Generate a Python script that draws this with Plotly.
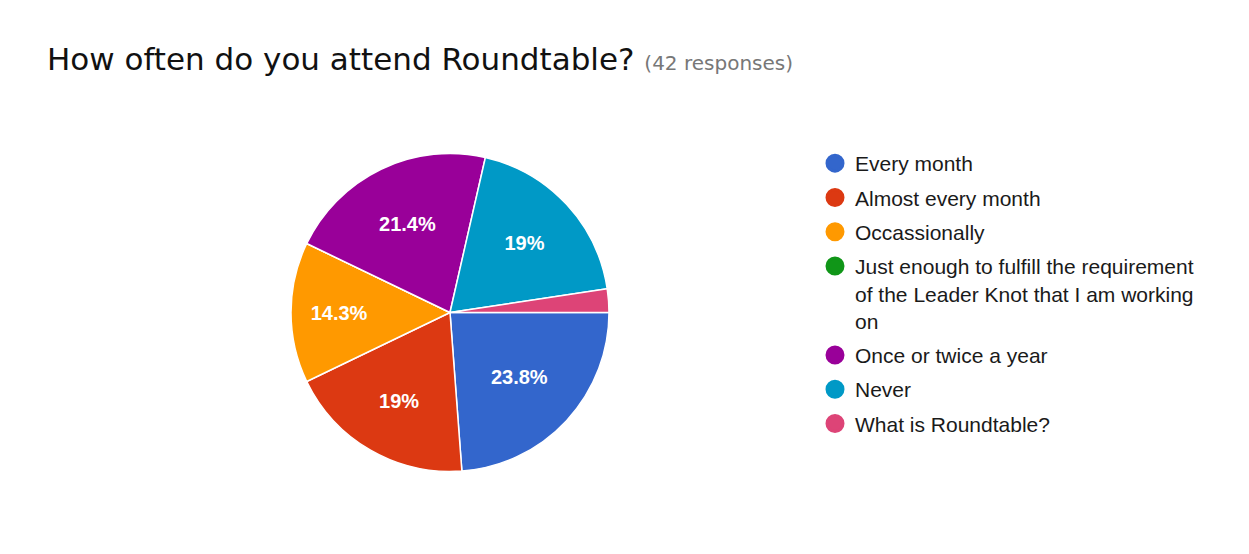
import plotly.graph_objects as go

# Survey answers and response counts (42 responses in total)
categories = [
    "Every month",
    "Almost every month",
    "Occassionally",
    "Just enough to fulfill the requirement of the Leader Knot that I am working on",
    "Once or twice a year",
    "Never",
    "What is Roundtable?",
]
legend_labels = [
    "Every month",
    "Almost every month",
    "Occassionally",
    "Just enough to fulfill the requirement<br>of the Leader Knot that I am working<br>on",
    "Once or twice a year",
    "Never",
    "What is Roundtable?",
]
counts = [10, 8, 6, 0, 9, 8, 1]
colors = ["#3366cc", "#dc3912", "#ff9900", "#109618", "#990099", "#0099c6", "#dd4477"]

total = sum(counts)


def pct_label(v):
    p = v / total * 100
    if p < 5:
        return ""
    s = f"{p:.1f}".rstrip("0").rstrip(".")
    return s + "%"


slice_text = [pct_label(v) for v in counts]

W, H = 1249, 554
cx, cy, r = 450, 312.5, 159

fig = go.Figure()

fig.add_trace(go.Pie(
    labels=categories,
    values=counts,
    text=slice_text,
    textinfo="text",
    texttemplate="<b>%{text}</b>",
    textposition="inside",
    insidetextorientation="horizontal",
    insidetextfont=dict(family="Liberation Sans, Arial, sans-serif", size=20, color="white"),
    marker=dict(colors=colors, line=dict(color="white", width=1.5)),
    sort=False,
    direction="clockwise",
    rotation=90,
    showlegend=False,
    hoverinfo="label+percent",
    domain=dict(
        x=[(cx - r) / W, (cx + r) / W],
        y=[(H - cy - r) / H, (H - cy + r) / H],
    ),
))

# Legend entries with round swatches
for i, (lab, col) in enumerate(zip(legend_labels, colors)):
    fig.add_trace(go.Scatter(
        x=[None], y=[None],
        mode="markers",
        name=lab,
        legendgroup=f"g{i}",
        marker=dict(size=16, color=col, line=dict(color=col, width=3)),
        showlegend=True,
        hoverinfo="skip",
    ))

fig.update_layout(
    width=W,
    height=H,
    margin=dict(l=0, r=0, t=0, b=0),
    paper_bgcolor="white",
    plot_bgcolor="white",
    xaxis=dict(visible=False),
    yaxis=dict(visible=False),
    title=dict(
        text="How often do you attend Roundtable? "
             "<span style='font-size:20px;color:#777777'>(42 responses)</span>",
        font=dict(family="DejaVu Sans, Arial, sans-serif", size=31, color="#111111"),
        xref="container", yref="container",
        x=47 / W, xanchor="left",
        y=1 - 59 / H, yanchor="middle",
    ),
    legend=dict(
        x=815 / W, xanchor="left",
        y=1 - 143 / H, yanchor="top",
        valign="top",
        traceorder="grouped",
        tracegroupgap=4,
        font=dict(family="Liberation Sans, Arial, sans-serif", size=21, color="#1a1a1a"),
        bgcolor="rgba(0,0,0,0)",
    ),
)

fig.write_html("out.html")
